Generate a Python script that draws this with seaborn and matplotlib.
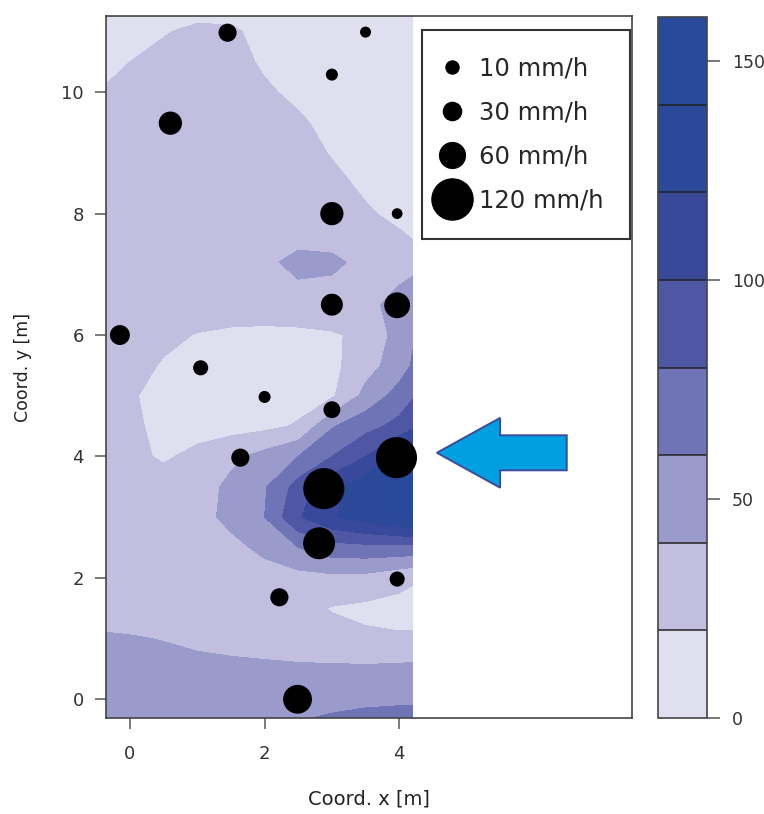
import numpy as np
import pandas as pd
import matplotlib
matplotlib.use("Agg")
import matplotlib.pyplot as plt
from matplotlib.lines import Line2D
from matplotlib.patches import FancyArrow
import seaborn as sns

# gauge positions [m] and rain intensity [mm/h]
gauge_x = [1.45, 3.5, 3.0, 0.6, 3.0, 3.97, 3.0, 3.97, -0.15, 1.05, 2.0, 3.0,
           1.64, 3.96, 2.88, 2.81, 3.97, 2.22, 2.49]
gauge_y = [10.98, 10.99, 10.29, 9.49, 8.0, 8.0, 6.5, 6.49, 6.0, 5.46, 4.98, 4.77,
           3.98, 3.98, 3.47, 2.57, 1.98, 1.68, 0.0]
intensity = [30, 2, 6, 50, 50, 1, 45, 60, 37, 18, 6, 25,
             30, 120, 120, 84, 18, 30, 72]

# interpolated intensity field (rows = y, cols = x)
grid_x = [-0.36, 0, 0.5, 1, 1.5, 2, 2.5, 3, 3.5, 4, 4.2]
grid_y = [-0.32, 0, 0.5, 1, 1.5, 2, 2.5, 3, 3.5, 4, 4.5, 5, 5.5, 6, 6.5,
          7.2, 7.5, 8, 8.5, 9, 9.5, 10, 10.5, 11, 11.27]
field = [
    [53, 53, 52, 52, 53, 55, 59, 62, 65, 66, 66],      # -0.32
    [52, 52, 51, 50, 50, 51, 53, 55, 56, 57, 57],      # 0
    [50, 50, 49, 47, 45, 44, 43, 43, 43, 44, 45],      # 0.5
    [44, 42, 39, 35, 33, 31, 29, 26, 23, 22, 22],      # 1
    [25, 25, 25, 26, 27, 27, 25, 19, 16, 14, 14],      # 1.5
    [25, 25, 26, 27, 29, 31, 33, 35, 34, 26, 22],      # 2
    [26, 26, 27, 29, 34, 45, 60, 72, 74, 74, 74],      # 2.5
    [27, 27, 28, 32, 46, 60, 98, 118, 130, 142, 145],  # 3
    [27, 27, 27, 30, 45, 58, 88, 114, 132, 148, 152],  # 3.5
    [27, 24, 18, 24, 35, 47, 60, 80, 100, 128, 138],   # 4
    [29, 23, 16, 14, 13, 15, 22, 58, 73, 86, 96],      # 4.5
    [30, 22, 14, 11, 10, 10, 12, 17, 46, 68, 78],      # 5
    [31, 28, 18, 13, 11, 11, 12, 15, 32, 50, 62],      # 5.5
    [30, 29, 25, 19, 16, 15, 15, 18, 24, 48, 58],      # 6
    [29, 30, 31, 31, 31, 31, 34, 33, 36, 45, 48],      # 6.5
    [28, 30, 33, 35, 36, 37, 44, 43, 36, 34, 36],      # 7.2
    [27, 29, 32, 34, 35, 36, 38, 37, 30, 24, 21],      # 7.5
    [26, 28, 31, 33, 33, 32, 31, 28, 22, 16, 14],      # 8
    [25, 27, 30, 32, 32, 31, 29, 24, 17, 12, 11],      # 8.5
    [24, 26, 29, 31, 31, 30, 26, 19, 14, 11, 10],      # 9
    [23, 25, 28, 30, 30, 28, 22, 16, 12, 10, 10],      # 9.5
    [21, 23, 27, 29, 28, 22, 17, 13, 11, 10, 10],      # 10
    [17, 20, 24, 27, 25, 18, 14, 12, 11, 10, 10],      # 10.5
    [13, 15, 19, 23, 22, 16, 13, 11, 10, 10, 10],      # 11
    [12, 13, 15, 17, 17, 14, 12, 11, 10, 10, 10],      # 11.27
]

levels = [0, 20, 40, 60, 80, 100, 120, 140, 160]
band_colors = ["#dfdff0", "#c1bee0", "#9b9bcb", "#6e74b5",
               "#4f57a5", "#38499b", "#2b4899", "#294a9b"]

legend_vals = [10, 30, 60, 120]
legend_labels = ["10 mm/h", "30 mm/h", "60 mm/h", "120 mm/h"]

sns.set_style("ticks")
plt.rcParams["font.family"] = ["DejaVu Sans"]


def diam_pt(v):
    # marker diameter grows linearly with intensity
    return (10.5 + 0.255 * v) * 0.72


fig = plt.figure(figsize=(7.64, 8.14), dpi=100)
ax = fig.add_axes([0.1387, 0.1176, 0.6881, 0.8631])
cax = fig.add_axes([0.8613, 0.1179, 0.0641, 0.8612])

cf = ax.contourf(grid_x, grid_y, np.array(field), levels=levels, colors=band_colors)

df = pd.DataFrame({"x": gauge_x, "y": gauge_y, "I": intensity})
size_map = {v: diam_pt(v) ** 2 for v in sorted(set(intensity))}
sns.scatterplot(data=df, x="x", y="y", size="I", sizes=size_map, color="black",
                edgecolor="none", legend=False, ax=ax, zorder=3)

# arrow pointing at the strongest gauge
ax.add_patch(FancyArrow(6.49, 4.06, -1.93, 0, width=0.577, head_width=1.15,
                        head_length=0.94, length_includes_head=True,
                        facecolor="#00a0e0", edgecolor="#3d4a9e", linewidth=1.4,
                        zorder=4))

ax.set_xlim(-0.357, 7.455)
ax.set_ylim(-0.313, 11.26)
ax.set_xticks([0, 2, 4])
ax.set_yticks([0, 2, 4, 6, 8, 10])
ax.tick_params(axis="both", length=8, width=1.1, color="#555555",
               labelsize=13, labelcolor="#333333")
ax.tick_params(axis="x", pad=11)
ax.tick_params(axis="y", pad=8)
for sp in ax.spines.values():
    sp.set_color("#444444")
    sp.set_linewidth(1.2)
ax.set_xlabel("Coord. x [m]", fontsize=14, color="#222222", labelpad=19)
ax.set_ylabel("Coord. y [m]", fontsize=12.5, color="#222222", labelpad=21)

handles = [Line2D([], [], marker="o", linestyle="none", color="black",
                  markersize=diam_pt(v)) for v in legend_vals]
leg = ax.legend(handles, legend_labels, loc="upper left", bbox_to_anchor=(0.601, 0.98),
                borderaxespad=0, fontsize=17.5, frameon=True, fancybox=False,
                framealpha=1, edgecolor="#333333", borderpad=1.1, handlelength=0.3,
                handletextpad=0.95, labelspacing=0.82)
leg.get_frame().set_linewidth(1.5)

cbar = fig.colorbar(cf, cax=cax, drawedges=True, ticks=[0, 50, 100, 150])
cbar.dividers.set_color("#222222")
cbar.dividers.set_linewidth(1.1)
cbar.outline.set_edgecolor("#444444")
cbar.outline.set_linewidth(1.2)
cax.tick_params(length=9, width=1.1, color="#555555", pad=9,
                labelsize=12.5, labelcolor="#333333")

fig.savefig("out.png", dpi=100)
